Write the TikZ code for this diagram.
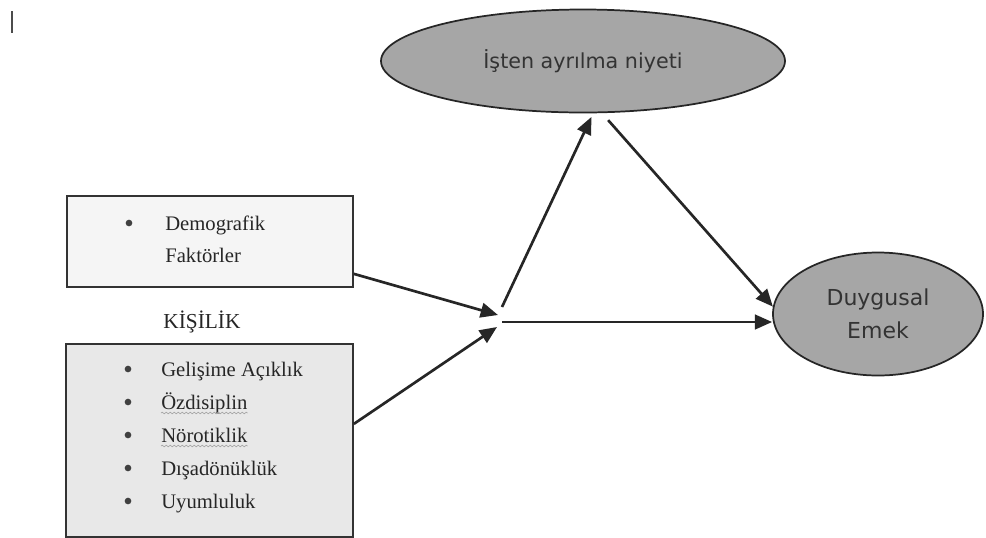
\documentclass[tikz,border=0pt]{standalone}
\usepackage{fontspec}
\setmainfont{Liberation Serif}
\newfontfamily\ellfont{DejaVu Sans}
\usetikzlibrary{arrows.meta,shapes.geometric,decorations.pathmorphing}
\begin{document}
\begin{tikzpicture}[x=0.75pt,y=-0.75pt,
  ell/.style={ellipse, draw=black!85, line width=1.3pt, fill=black!35, inner sep=0pt, text=black!80},
  box/.style={draw=black!80, line width=1.4pt, inner sep=0pt, anchor=north west},
  item/.style={anchor=base west, inner sep=0pt, font=\fontsize{15.5}{18}\selectfont, text=black!85},
  bul/.style={circle, fill=black!75, inner sep=0pt, minimum size=5pt},
  arr/.style={draw=black!85, line width=2pt, -{Triangle[length=13pt,width=11pt]}},
  wavy/.style={draw=black!35, line width=0.5pt, decorate, decoration={snake, amplitude=0.6pt, segment length=3pt}}
]
\useasboundingbox (0,0) rectangle (986,537);
\fill[white] (0,0) rectangle (986,537);
\draw[line width=1.2pt, black!70] (12,11) -- (12,33);

% boxes
\node[box, fill=black!4, minimum width=214.5pt, minimum height=68.25pt] (demo) at (66,195) {};
\node[box, fill=black!9, minimum width=215.25pt, minimum height=144.75pt] (kisi) at (65,343) {};

% box 1 text
\node[bul] (b1) at (129,223) {};
\node[item] (t1) at (165,230) {Demografik};
\node[item] (t2) at (165,262) {Faktörler};

\node[anchor=base, inner sep=0pt, font=\fontsize{16}{19}\selectfont, text=black!85] (kis) at (202,328) {KİŞİLİK};

% box 2 text
\node[bul] (c1) at (128,369) {};
\node[bul] (c2) at (128,402) {};
\node[bul] (c3) at (128,435) {};
\node[bul] (c4) at (128,468) {};
\node[bul] (c5) at (128,501) {};
\node[item] (g1) at (161,376) {Gelişime Açıklık};
\node[item] (g2) at (161,409) {Özdisiplin};
\node[item] (g3) at (161,442) {Nörotiklik};
\node[item] (g4) at (161,475) {Dışadönüklük};
\node[item] (g5) at (161,508) {Uyumluluk};
\draw[wavy] ([yshift=-3pt]g2.base west) -- ([yshift=-3pt]g2.base east);
\draw[wavy] ([yshift=-3pt]g3.base west) -- ([yshift=-3pt]g3.base east);

% ellipses
\node[ell, minimum width=303pt, minimum height=77.25pt, font=\ellfont\fontsize{15.5}{18}\selectfont] (ayr) at (583,61) {İşten ayrılma niyeti};
\node[ell, minimum width=157.5pt, minimum height=92.25pt, align=center, font=\ellfont\fontsize{16.5}{25}\selectfont] (duy) at (878,314) {Duygusal\\Emek};

% junction coordinates
\coordinate (j1) at (498,315);
\coordinate (j2) at (497,327);
\coordinate (j3) at (502,307);
\coordinate (j4) at (502,322);

% connectors
\draw[arr] ([yshift=10.5pt]demo.south east) -- (j1);
\draw[arr] ([yshift=12.4pt]kisi.east) -- (j2);
\draw[arr, shorten >=3pt] (j3) -- (ayr.-79);
\draw[arr, shorten <=7pt] (ayr.-70.6) -- (duy.176);
\draw[arr] (j4) -- (j4 -| duy.west);
\end{tikzpicture}
\end{document}
